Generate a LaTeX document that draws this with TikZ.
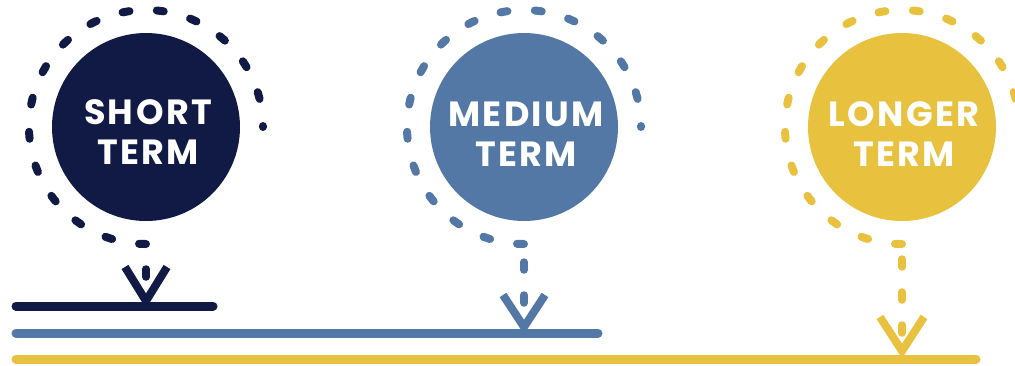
\documentclass[tikz,border=0pt]{standalone}
\usepackage{fontspec}
\setmainfont{Poppins}
\usetikzlibrary{calc}
\definecolor{navy}{HTML}{111A45}
\definecolor{steel}{HTML}{5478A6}
\definecolor{gold}{HTML}{E8C23F}
\begin{document}
\begin{tikzpicture}[x=1pt,y=-1pt,
  disc/.style={circle, minimum size=188pt, inner sep=0pt, fill=#1},
  ring/.style={draw=#1, line width=8pt, line cap=round, dash pattern=on 7pt off 27.4pt},
  drop/.style={draw=#1, line width=7.5pt, line cap=round, dash pattern=on 8pt off 25pt},
  vtip/.style={draw=#1, line width=8pt, line join=miter},
  base/.style={draw=#1, line width=9pt, line cap=round},
  lbl/.style={text=white, font=\bfseries\fontsize{35}{40}\selectfont\addfontfeatures{LetterSpace=7}, align=center, inner sep=0pt}]
\useasboundingbox (0,0) rectangle (1015,365);

% short term
\node[disc=navy] (c1) at (146,127) {};
\node[lbl] (t1) at (148,132) {SHORT\\TERM};
\draw[ring=navy] ($(c1.center)+(0,117)$) arc[start angle=90, end angle=360, radius=117];
\coordinate (d1) at (146,269);
\coordinate (a1) at (146,301);
\draw[drop=navy] (d1) -- (a1);
\draw[vtip=navy] ($(a1)+(-21,-34)$) -- (a1) -- ($(a1)+(21,-34)$);
\coordinate (l1s) at (16,306);
\coordinate (l1e) at (213,306);
\draw[base=navy] (l1s) -- (l1e);

% medium term
\node[disc=steel] (c2) at (524,127) {};
\node[lbl] (t2) at (526,134) {MEDIUM\\TERM};
\draw[ring=steel] ($(c2.center)+(0,117)$) arc[start angle=90, end angle=360, radius=117];
\coordinate (d2) at (524,262);
\coordinate (a2) at (524,327);
\draw[drop=steel] (d2) -- (a2);
\draw[vtip=steel] ($(a2)+(-21,-32)$) -- (a2) -- ($(a2)+(21,-32)$);
\coordinate (l2s) at (16,333);
\coordinate (l2e) at (598,333);
\draw[base=steel] (l2s) -- (l2e);

% longer term
\node[disc=gold] (c3) at (902,127) {};
\node[lbl] (t3) at (904,134) {LONGER\\TERM};
\draw[ring=gold] ($(c3.center)+(0,117)$) arc[start angle=90, end angle=360, radius=117];
\coordinate (d3) at (902,259);
\coordinate (a3) at (902,351);
\draw[drop=gold] (d3) -- (a3);
\draw[vtip=gold] ($(a3)+(-22,-34)$) -- (a3) -- ($(a3)+(22,-34)$);
\coordinate (l3s) at (16,359);
\coordinate (l3e) at (976,359);
\draw[base=gold] (l3s) -- (l3e);
\end{tikzpicture}
\end{document}
